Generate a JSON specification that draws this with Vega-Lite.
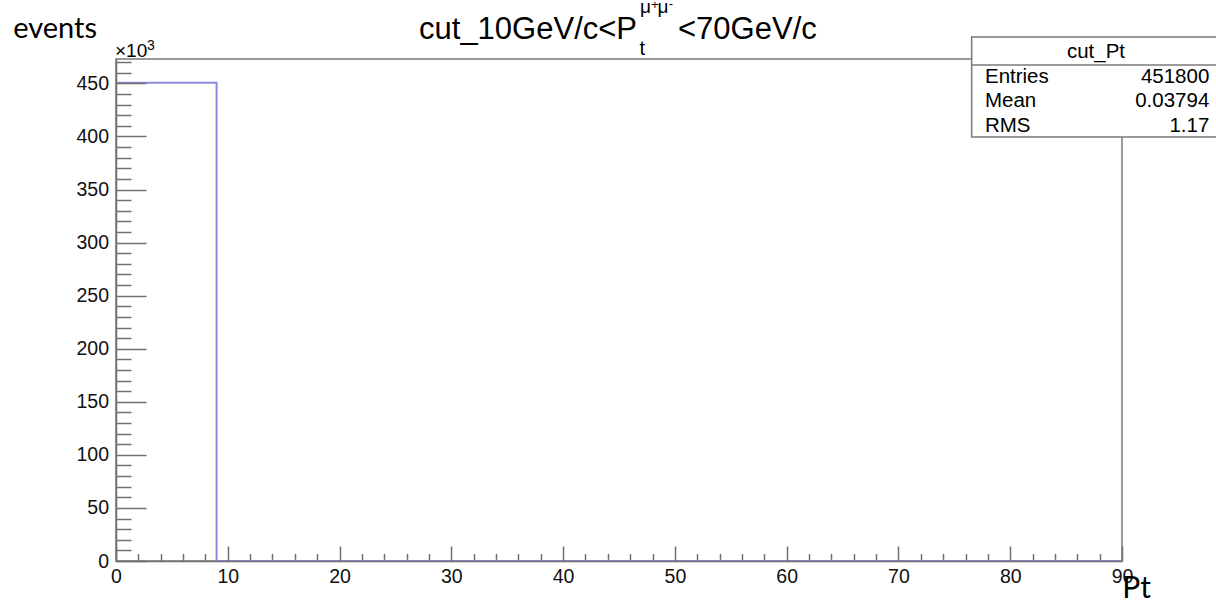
{
  "$schema": "https://vega.github.io/schema/vega-lite/v6.json",
  "width": 1006,
  "height": 502,
  "autosize": {"type": "none"},
  "padding": {"left": 116, "top": 59, "right": 94, "bottom": 40},
  "background": "white",
  "config": {
    "view": {"stroke": "#7a7a7a", "strokeWidth": 1.5},
    "text": {"font": "Liberation Sans", "color": "black"}
  },
  "resolve": {"axis": {"x": "independent", "y": "independent"}},
  "layer": [
    {
      "data": {"values": [
        {"Pt": 0, "events": 450700},
        {"Pt": 9, "events": 0},
        {"Pt": 18, "events": 0},
        {"Pt": 27, "events": 0},
        {"Pt": 36, "events": 0},
        {"Pt": 45, "events": 0},
        {"Pt": 54, "events": 0},
        {"Pt": 63, "events": 0},
        {"Pt": 72, "events": 0},
        {"Pt": 81, "events": 0},
        {"Pt": 90, "events": 0}
      ]},
      "mark": {"type": "line", "interpolate": "step-after", "color": "#8b8bdb", "strokeWidth": 2},
      "encoding": {
        "x": {
          "field": "Pt", "type": "quantitative",
          "scale": {"domain": [0, 90], "nice": false, "zero": false},
          "axis": {
            "orient": "bottom",
            "values": [0, 10, 20, 30, 40, 50, 60, 70, 80, 90],
            "tickSize": -15, "tickColor": "#707070", "tickWidth": 1.5,
            "domainColor": "#707070", "domainWidth": 1.5,
            "labelFont": "Liberation Sans", "labelFontSize": 19.5, "labelColor": "#111",
            "labelPadding": 21, "labelFlush": false, "labelOverlap": false,
            "grid": false, "zindex": 2,
            "title": "Pt", "titleFont": "Lato", "titleFontSize": 30, "titleFontWeight": "normal",
            "titleColor": "black", "titleX": 1005.7, "titleY": 36.7,
            "titleAlign": "left", "titleBaseline": "alphabetic", "titleAngle": 0
          }
        },
        "y": {
          "field": "events", "type": "quantitative",
          "scale": {"domain": [0, 473000], "nice": false, "zero": false},
          "axis": {
            "orient": "left",
            "values": [0, 50000, 100000, 150000, 200000, 250000, 300000, 350000, 400000, 450000],
            "labelExpr": "format(datum.value / 1000, 'd')",
            "tickSize": -30, "tickColor": "#707070", "tickWidth": 1.5,
            "domainColor": "#707070", "domainWidth": 1.5,
            "labelFont": "Liberation Sans", "labelFontSize": 19.5, "labelColor": "#111",
            "labelPadding": 37.5, "labelOverlap": false,
            "grid": false, "zindex": 2,
            "title": "events", "titleFont": "Lato", "titleFontSize": 29, "titleFontWeight": "normal",
            "titleColor": "black", "titleX": -103.3, "titleY": -22,
            "titleAlign": "left", "titleBaseline": "alphabetic", "titleAngle": 0
          }
        }
      }
    },
    {
      "data": {"values": [{}]},
      "mark": {"type": "rect", "fill": "white", "stroke": "#7a7a7a", "strokeWidth": 1.5},
      "encoding": {
        "x": {
          "datum": 76.55, "type": "quantitative",
          "axis": {
            "orient": "bottom",
            "values": [2, 4, 6, 8, 12, 14, 16, 18, 22, 24, 26, 28, 32, 34, 36, 38, 42, 44, 46, 48, 52, 54, 56, 58, 62, 64, 66, 68, 72, 74, 76, 78, 82, 84, 86, 88],
            "tickSize": -7.5, "tickColor": "#707070", "tickWidth": 1.5,
            "labels": false, "domain": false, "grid": false, "title": null
          }
        },
        "x2": {"datum": 99},
        "y": {
          "datum": 493700, "type": "quantitative",
          "axis": {
            "orient": "left",
            "values": [10000, 20000, 30000, 40000, 60000, 70000, 80000, 90000, 110000, 120000, 130000, 140000, 160000, 170000, 180000, 190000, 210000, 220000, 230000, 240000, 260000, 270000, 280000, 290000, 310000, 320000, 330000, 340000, 360000, 370000, 380000, 390000, 410000, 420000, 430000, 440000, 460000, 470000],
            "tickSize": -15, "tickColor": "#707070", "tickWidth": 1.5,
            "labels": false, "domain": false, "grid": false, "title": null
          }
        },
        "y2": {"datum": 399400}
      }
    },
    {
      "data": {"values": [{}]},
      "mark": {"type": "rule", "color": "#7a7a7a", "strokeWidth": 1.5},
      "encoding": {
        "x": {"datum": 76.55, "type": "quantitative", "axis": null},
        "x2": {"datum": 99},
        "y": {"datum": 467280, "type": "quantitative", "axis": null}
      }
    },
    {
      "data": {"values": [{"t": "×10"}]},
      "mark": {"type": "text", "fontSize": 19, "align": "left", "baseline": "alphabetic"},
      "encoding": {
        "x": {"datum": -0.09, "type": "quantitative", "axis": null},
        "y": {"datum": 474600, "type": "quantitative", "axis": null},
        "text": {"field": "t"}
      }
    },
    {
      "data": {"values": [{"t": "3"}]},
      "mark": {"type": "text", "fontSize": 14, "align": "left", "baseline": "alphabetic"},
      "encoding": {
        "x": {"datum": 2.77, "type": "quantitative", "axis": null},
        "y": {"datum": 481480, "type": "quantitative", "axis": null},
        "text": {"field": "t"}
      }
    },
    {
      "data": {"values": [{"t": "cut_Pt"}]},
      "mark": {"type": "text", "fontSize": 20.5, "align": "center", "baseline": "alphabetic"},
      "encoding": {
        "x": {"datum": 87.67, "type": "quantitative", "axis": null},
        "y": {"datum": 473660, "type": "quantitative", "axis": null},
        "text": {"field": "t"}
      }
    },
    {
      "data": {"values": [{"t": "Entries"}]},
      "mark": {"type": "text", "fontSize": 20.5, "align": "left", "baseline": "alphabetic"},
      "encoding": {
        "x": {"datum": 77.74, "type": "quantitative", "axis": null},
        "y": {"datum": 450100, "type": "quantitative", "axis": null},
        "text": {"field": "t"}
      }
    },
    {
      "data": {"values": [{"t": "Mean"}]},
      "mark": {"type": "text", "fontSize": 20.5, "align": "left", "baseline": "alphabetic"},
      "encoding": {
        "x": {"datum": 77.74, "type": "quantitative", "axis": null},
        "y": {"datum": 427490, "type": "quantitative", "axis": null},
        "text": {"field": "t"}
      }
    },
    {
      "data": {"values": [{"t": "RMS"}]},
      "mark": {"type": "text", "fontSize": 20.5, "align": "left", "baseline": "alphabetic"},
      "encoding": {
        "x": {"datum": 77.74, "type": "quantitative", "axis": null},
        "y": {"datum": 404500, "type": "quantitative", "axis": null},
        "text": {"field": "t"}
      }
    },
    {
      "data": {"values": [{"t": "451800"}]},
      "mark": {"type": "text", "fontSize": 20.5, "align": "right", "baseline": "alphabetic"},
      "encoding": {
        "x": {"datum": 97.81, "type": "quantitative", "axis": null},
        "y": {"datum": 450100, "type": "quantitative", "axis": null},
        "text": {"field": "t"}
      }
    },
    {
      "data": {"values": [{"t": "0.03794"}]},
      "mark": {"type": "text", "fontSize": 20.5, "align": "right", "baseline": "alphabetic"},
      "encoding": {
        "x": {"datum": 97.81, "type": "quantitative", "axis": null},
        "y": {"datum": 427490, "type": "quantitative", "axis": null},
        "text": {"field": "t"}
      }
    },
    {
      "data": {"values": [{"t": "1.17"}]},
      "mark": {"type": "text", "fontSize": 20.5, "align": "right", "baseline": "alphabetic"},
      "encoding": {
        "x": {"datum": 97.81, "type": "quantitative", "axis": null},
        "y": {"datum": 404500, "type": "quantitative", "axis": null},
        "text": {"field": "t"}
      }
    },
    {
      "data": {"values": [{"t": "cut_10GeV/c<P"}]},
      "mark": {"type": "text", "fontSize": 31, "align": "left", "baseline": "alphabetic"},
      "encoding": {
        "x": {"datum": 27.11, "type": "quantitative", "axis": null},
        "y": {"datum": 492300, "type": "quantitative", "axis": null},
        "text": {"field": "t"}
      }
    },
    {
      "data": {"values": [{"t": "t"}]},
      "mark": {"type": "text", "fontSize": 20, "align": "left", "baseline": "alphabetic"},
      "encoding": {
        "x": {"datum": 46.83, "type": "quantitative", "axis": null},
        "y": {"datum": 476770, "type": "quantitative", "axis": null},
        "text": {"field": "t"}
      }
    },
    {
      "data": {"values": [{"t": "μ"}]},
      "mark": {"type": "text", "fontSize": 19, "align": "left", "baseline": "alphabetic"},
      "encoding": {
        "x": {"datum": 46.88, "type": "quantitative", "axis": null},
        "y": {"datum": 516340, "type": "quantitative", "axis": null},
        "text": {"field": "t"}
      }
    },
    {
      "data": {"values": [{"t": "+"}]},
      "mark": {"type": "text", "fontSize": 13, "align": "left", "baseline": "alphabetic"},
      "encoding": {
        "x": {"datum": 47.86, "type": "quantitative", "axis": null},
        "y": {"datum": 520110, "type": "quantitative", "axis": null},
        "text": {"field": "t"}
      }
    },
    {
      "data": {"values": [{"t": "μ"}]},
      "mark": {"type": "text", "fontSize": 19, "align": "left", "baseline": "alphabetic"},
      "encoding": {
        "x": {"datum": 48.45, "type": "quantitative", "axis": null},
        "y": {"datum": 516340, "type": "quantitative", "axis": null},
        "text": {"field": "t"}
      }
    },
    {
      "data": {"values": [{"t": "-"}]},
      "mark": {"type": "text", "fontSize": 13, "align": "left", "baseline": "alphabetic"},
      "encoding": {
        "x": {"datum": 49.45, "type": "quantitative", "axis": null},
        "y": {"datum": 521050, "type": "quantitative", "axis": null},
        "text": {"field": "t"}
      }
    },
    {
      "data": {"values": [{"t": "<70GeV/c"}]},
      "mark": {"type": "text", "fontSize": 31, "align": "left", "baseline": "alphabetic"},
      "encoding": {
        "x": {"datum": 50.28, "type": "quantitative", "axis": null},
        "y": {"datum": 492300, "type": "quantitative", "axis": null},
        "text": {"field": "t"}
      }
    }
  ]
}
